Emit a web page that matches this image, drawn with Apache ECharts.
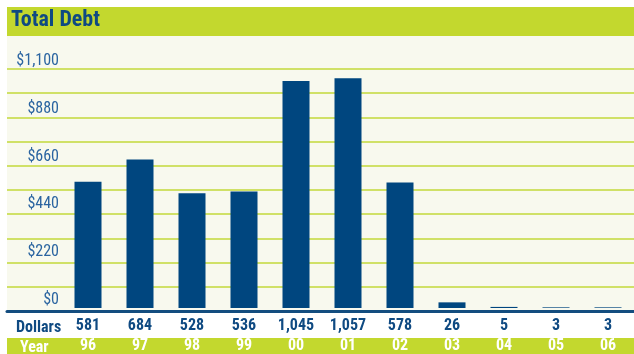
<!DOCTYPE html>
<html>
<head>
<meta charset="utf-8">
<script src="https://cdn.jsdelivr.net/npm/echarts@6/dist/echarts.min.js"></script>
<style>
  html, body { margin: 0; padding: 0; background: #ffffff; }
  #chart { width: 634px; height: 354px; }
</style>
</head>
<body>
<div id="chart"></div>
<script>
// Fiscal years (two-digit) and total debt in dollars
const years = ['96', '97', '98', '99', '00', '01', '02', '03', '04', '05', '06'];
const dollars = [581, 684, 528, 536, 1045, 1057, 578, 26, 5, 3, 3];

// Value scale: gridline every 110, labels every 220
const yMax = 1100;
const yStep = 110;
const yLabelValues = [0, 220, 440, 660, 880, 1100];

const COND = '"Roboto Condensed", "Open Sans Condensed", "Liberation Sans", sans-serif';
const NAVY = '#0f4a82';
const GREEN = '#c3d82e';
const CREAM = '#f8f9ee';
const BAR = '#00467f';

const fmtNum = v => v.toLocaleString('en-US');

const chart = echarts.init(document.getElementById('chart'), null, { renderer: 'canvas' });

chart.setOption({
  animation: false,
  backgroundColor: '#ffffff',
  graphic: [
    // header band
    { type: 'rect', z: -1, shape: { x: 7, y: 7, width: 627, height: 29 }, style: { fill: GREEN } },
    { type: 'text', z: 10, left: 11, top: 9,
      style: { text: 'Total Debt', fill: NAVY, font: 'bold 22px ' + COND } },
    // plot panel
    { type: 'rect', z: -1, shape: { x: 7, y: 36, width: 627, height: 275 }, style: { fill: CREAM } },
    // year band
    { type: 'rect', z: -1, shape: { x: 7, y: 338, width: 627, height: 16 }, style: { fill: GREEN } },
    { type: 'text', z: 10, left: 16, top: 320,
      style: { text: 'Dollars', fill: NAVY, font: 'bold 16px ' + COND } },
    { type: 'text', z: 10, left: 20, top: 340,
      style: { text: 'Year', fill: '#ffffff', font: 'bold 16px ' + COND } }
  ],
  grid: [
    { left: 62, width: 583, top: 69, bottom: 43, containLabel: false },
    { left: 7, right: 0, top: 69, bottom: 43, containLabel: false }
  ],
  xAxis: [
    {
      type: 'category', gridIndex: 0, data: years, position: 'bottom',
      axisLine: { show: false }, axisTick: { show: false },
      axisLabel: {
        interval: 0, hideOverlap: false, margin: 10,
        color: NAVY, fontFamily: COND, fontWeight: 'bold', fontSize: 16,
        formatter: (v, i) => fmtNum(dollars[i])
      }
    },
    {
      type: 'category', gridIndex: 0, data: years, position: 'bottom', offset: 30,
      axisLine: { show: false }, axisTick: { show: false },
      axisLabel: {
        interval: 0, hideOverlap: false, margin: 0,
        color: '#ffffff', fontFamily: COND, fontWeight: 'bold', fontSize: 16
      }
    },
    {
      // baseline rule across the whole panel, drawn over the bar bottoms
      type: 'value', gridIndex: 1, min: 0, max: 1, z: 10,
      axisLine: { show: true, lineStyle: { color: '#134d7f', width: 3 } },
      axisTick: { show: false }, axisLabel: { show: false }, splitLine: { show: false }
    }
  ],
  yAxis: [
    {
      type: 'value', gridIndex: 0, min: 0, max: yMax, interval: yStep,
      axisLine: { show: false }, axisTick: { show: false }, splitLine: { show: false },
      axisLabel: {
        margin: 3, color: '#2a64a0', fontFamily: COND, fontSize: 16,
        verticalAlign: 'bottom', padding: [0, 0, 0, 0],
        formatter: v => yLabelValues.includes(v) ? '$' + fmtNum(v) : ''
      }
    },
    {
      type: 'value', gridIndex: 1, min: 0, max: yMax, interval: yStep,
      axisLine: { show: false }, axisTick: { show: false }, axisLabel: { show: false },
      splitLine: { show: true, lineStyle: { color: '#c3d83a', width: 1.5 } }
    }
  ],
  series: [
    {
      type: 'bar', xAxisIndex: 0, yAxisIndex: 0, data: dollars,
      barWidth: 27, itemStyle: { color: BAR }, z: 1
    }
  ]
});
</script>
</body>
</html>
